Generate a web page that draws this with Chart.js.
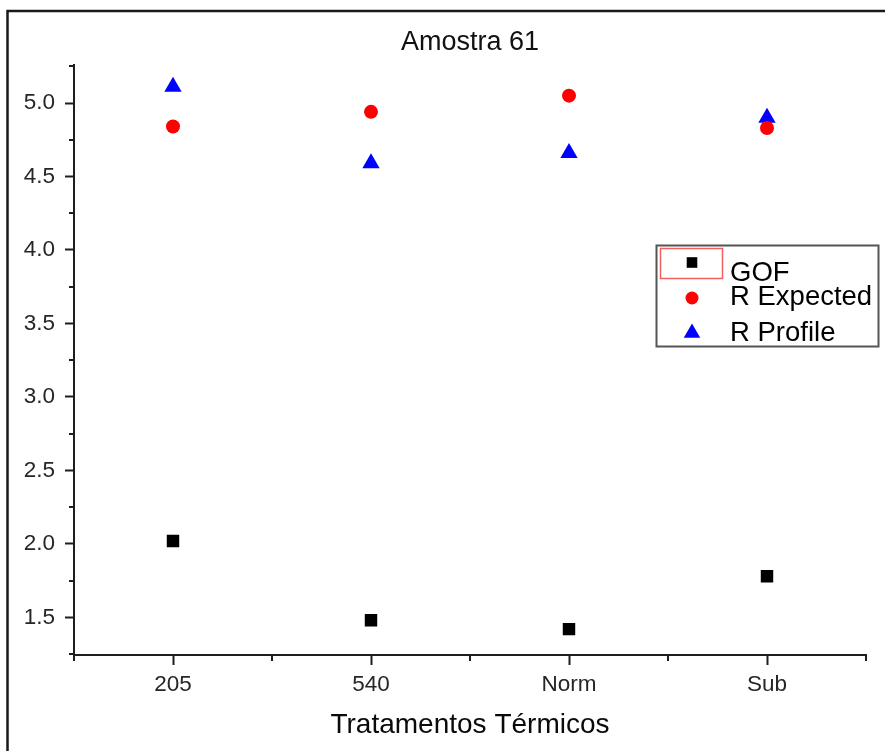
<!DOCTYPE html>
<html>
<head>
<meta charset="utf-8">
<script src="https://cdn.jsdelivr.net/npm/chart.js@4/dist/chart.umd.min.js"></script>
<style>
  html, body { margin: 0; padding: 0; background: #fff; }
  canvas { display: block; }
</style>
</head>
<body>
<canvas id="chart" width="885" height="751"></canvas>
<script>
// Heat treatments (x categories)
const treatments = ['205', '540', 'Norm', 'Sub'];

// Refinement quality indicators per treatment
const gof       = [2.02, 1.48, 1.42, 1.78];
const rExpected = [4.84, 4.94, 5.05, 4.83];
const rProfile  = [5.11, 4.59, 4.66, 4.90];

// Y axis labelled and minor tick values
const yTicks      = [1.5, 2.0, 2.5, 3.0, 3.5, 4.0, 4.5, 5.0];
const yMinorTicks = [1.25, 1.75, 2.25, 2.75, 3.25, 3.75, 4.25, 4.75, 5.25];

const AXIS = '#1e1e1e';
const FONT = "'Liberation Sans', Arial, sans-serif";

// white page with the outer frame line on the left and top
const framePlugin = {
  id: 'frame',
  beforeDraw(chart) {
    const ctx = chart.ctx;
    ctx.save();
    ctx.fillStyle = '#fff';
    ctx.fillRect(0, 0, chart.width, chart.height);
    ctx.strokeStyle = '#1a1a1a';
    ctx.lineWidth = 2.5;
    ctx.beginPath();
    ctx.moveTo(7.5, chart.height + 5);
    ctx.lineTo(7.5, 11);
    ctx.lineTo(chart.width + 5, 11);
    ctx.stroke();
    ctx.restore();
  }
};

// short minor ticks on both axes
const minorTicksPlugin = {
  id: 'minorTicks',
  afterDraw(chart) {
    const ctx = chart.ctx;
    const x = chart.scales.x, y = chart.scales.y;
    ctx.save();
    ctx.strokeStyle = AXIS;
    ctx.lineWidth = 2;
    ctx.beginPath();
    yMinorTicks.forEach(v => {
      const py = Math.round(y.getPixelForValue(v));
      ctx.moveTo(y.right, py);
      ctx.lineTo(y.right - 5, py);
    });
    for (let i = -0.5; i < treatments.length; i += 1) {
      const px = Math.round(x.getPixelForValue(i));
      ctx.moveTo(px, x.top);
      ctx.lineTo(px, x.top + 6);
    }
    ctx.stroke();
    ctx.restore();
  }
};

// boxed legend inside the plot, marker styles taken from the datasets
const boxLegendPlugin = {
  id: 'boxLegend',
  afterDraw(chart) {
    const ctx = chart.ctx;
    const rows = [
      { ds: 0, my: 262.5, ty: 273, r: 7.5 },
      { ds: 1, my: 298,   ty: 297, r: 6.5 },
      { ds: 2, my: 333,   ty: 333, r: 9.5 }
    ];
    ctx.save();
    ctx.strokeStyle = '#555';
    ctx.lineWidth = 2;
    ctx.strokeRect(656.5, 245.5, 222, 101);
    ctx.strokeStyle = '#f06060';
    ctx.lineWidth = 1.5;
    ctx.strokeRect(660.5, 248.5, 62, 30);
    rows.forEach(row => {
      const ds = chart.data.datasets[row.ds];
      ctx.fillStyle = ds.pointBackgroundColor;
      Chart.helpers.drawPoint(ctx, {
        pointStyle: ds.pointStyle, radius: row.r, rotation: 0, borderWidth: 0
      }, 692, row.my);
      ctx.fillStyle = '#000';
      ctx.font = '27.5px ' + FONT;
      ctx.textAlign = 'left';
      ctx.textBaseline = 'middle';
      ctx.fillText(ds.label, 730, row.ty);
    });
    ctx.restore();
  }
};

new Chart(document.getElementById('chart'), {
  type: 'line',
  data: {
    labels: treatments,
    datasets: [
      { label: 'GOF', data: gof, showLine: false, pointStyle: 'rect',
        pointRadius: 8.8, pointHoverRadius: 8.8, pointBorderWidth: 0,
        pointBackgroundColor: '#000', borderColor: '#000' },
      { label: 'R Expected', data: rExpected, showLine: false, pointStyle: 'circle',
        pointRadius: 7, pointHoverRadius: 7, pointBorderWidth: 0,
        pointBackgroundColor: '#ff0000', borderColor: '#ff0000' },
      { label: 'R Profile', data: rProfile, showLine: false, pointStyle: 'triangle',
        pointRadius: 10, pointHoverRadius: 10, pointBorderWidth: 0,
        pointBackgroundColor: '#0000ff', borderColor: '#0000ff' }
    ]
  },
  options: {
    responsive: false,
    animation: false,
    layout: { padding: { left: 0, right: 19, top: 0, bottom: 9 } },
    plugins: {
      legend: { display: false },
      tooltip: { enabled: false },
      title: {
        display: true,
        text: 'Amostra 61',
        fullSize: false,
        color: '#111',
        font: { family: FONT, size: 27, weight: 'normal' },
        padding: { top: 26, bottom: 7 }
      }
    },
    scales: {
      x: {
        type: 'category',
        offset: true,
        grid: { display: true, offset: false, drawOnChartArea: false, drawTicks: true,
                tickLength: 10, tickWidth: 2, tickColor: AXIS },
        border: { display: true, width: 2, color: AXIS },
        ticks: { color: '#262626', font: { family: FONT, size: 22.5 }, padding: 6,
                 maxRotation: 0 },
        title: { display: true, text: 'Tratamentos Térmicos', color: '#0a0a0a',
                 font: { family: FONT, size: 28 }, padding: 0 },
        afterFit(scale) { scale.height = 87; }
      },
      y: {
        type: 'linear',
        min: 1.244,
        max: 5.256,
        grid: { display: true, drawOnChartArea: false, drawTicks: true,
                tickLength: 9, tickWidth: 2, tickColor: AXIS },
        border: { display: true, width: 2, color: AXIS },
        ticks: { color: '#262626', font: { family: FONT, size: 22.5 }, padding: 10,
                 callback: v => Number(v).toFixed(1) },
        afterBuildTicks(scale) { scale.ticks = yTicks.map(v => ({ value: v })); },
        afterFit(scale) { scale.width = 74; }
      }
    }
  },
  plugins: [framePlugin, minorTicksPlugin, boxLegendPlugin]
});
</script>
</body>
</html>
